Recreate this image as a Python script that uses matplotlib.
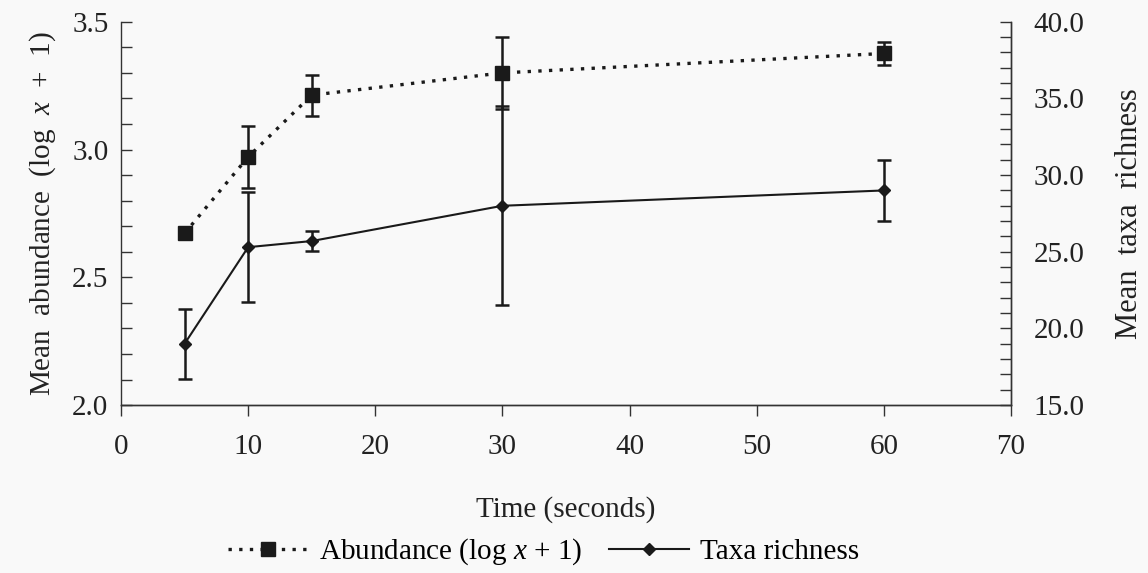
import numpy as np
import matplotlib
matplotlib.use('Agg')
import matplotlib.pyplot as plt
import matplotlib.ticker as ticker
from matplotlib.lines import Line2D

plt.rcParams['font.family'] = ['Liberation Serif', 'DejaVu Serif']
plt.rcParams['mathtext.fontset'] = 'custom'
plt.rcParams['mathtext.rm'] = 'Liberation Serif'
plt.rcParams['mathtext.it'] = 'Liberation Serif:italic'

# data
time_s = [5, 10, 15, 30, 60]
abundance = [2.672, 2.971, 3.213, 3.300, 3.376]
abundance_err = [0.01, 0.12, 0.08, 0.14, 0.045]
richness = [19.0, 25.3, 25.7, 28.0, 29.0]
richness_err = [2.3, 3.6, 0.67, 6.5, 2.0]

x_ticks = [0, 10, 20, 30, 40, 50, 60, 70]
left_ticks = [2.0, 2.5, 3.0, 3.5]
right_ticks = [15.0, 20.0, 25.0, 30.0, 35.0, 40.0]

fs = 21
bg = '#f9f9f9'
ink = '#1a1a1a'

fig = plt.figure(figsize=(11.48, 5.73), dpi=100, facecolor=bg)
ax = fig.add_axes([0.1054, 0.293, 0.7753, 0.669])
ax.set_facecolor(bg)
ax2 = ax.twinx()

abund_style = dict(color=ink, linestyle=(0, (1, 2.2)), linewidth=2.4,
                   marker='s', markersize=10.5)
rich_style = dict(color=ink, linestyle='-', linewidth=1.5,
                  marker='D', markersize=6)

ax.errorbar(time_s, abundance, yerr=abundance_err, elinewidth=1.8,
            capsize=5, capthick=1.8, **abund_style)
ax2.errorbar(time_s, richness, yerr=richness_err, elinewidth=1.8,
             capsize=5, capthick=1.8, **rich_style)

ax.set_xlim(0, 70)
ax.set_ylim(2.0, 3.5)
ax2.set_ylim(15.0, 40.0)
ax.set_xticks(x_ticks)
ax.set_yticks(left_ticks)
ax2.set_yticks(right_ticks)
ax.yaxis.set_minor_locator(ticker.MultipleLocator(0.1))
ax2.yaxis.set_minor_locator(ticker.MultipleLocator(1.0))
ax.yaxis.set_major_formatter(ticker.FormatStrFormatter('%.1f'))
ax2.yaxis.set_major_formatter(ticker.FormatStrFormatter('%.1f'))

for a in (ax, ax2):
    a.spines['top'].set_visible(False)
    for s in a.spines.values():
        s.set_linewidth(1.0)
        s.set_color('#333333')
ax2.spines['left'].set_visible(False)

ax.tick_params(axis='y', which='both', direction='in', length=8, width=1,
               labelsize=fs, pad=9, colors='#333333', labelcolor='#222222')
ax2.tick_params(axis='y', which='both', direction='in', length=8, width=1,
                labelsize=fs, pad=16, colors='#333333', labelcolor='#222222')
ax.tick_params(axis='x', direction='out', length=8, width=1, labelsize=fs,
               pad=13, colors='#333333', labelcolor='#222222')

ax.set_xlabel('Time (seconds)', fontsize=fs, labelpad=26, color='#222222')
ax.set_ylabel('Mean  abundance  (log  $x$  +  1)', fontsize=fs, labelpad=10, color='#222222')
ax2.set_ylabel('Mean  taxa  richness', fontsize=22, labelpad=22, color='#222222')

handles = [Line2D([], [], **abund_style), Line2D([], [], **rich_style)]
fig.legend(handles, ['Abundance (log $x$ + 1)', 'Taxa richness'],
           loc='center left', bbox_to_anchor=(228 / 1148, 0.037), ncol=2,
           frameon=False, fontsize=fs, handlelength=2.75, handletextpad=0.38,
           columnspacing=0.9, borderpad=0, borderaxespad=0)

fig.savefig('out.png', dpi=100, facecolor=bg)
